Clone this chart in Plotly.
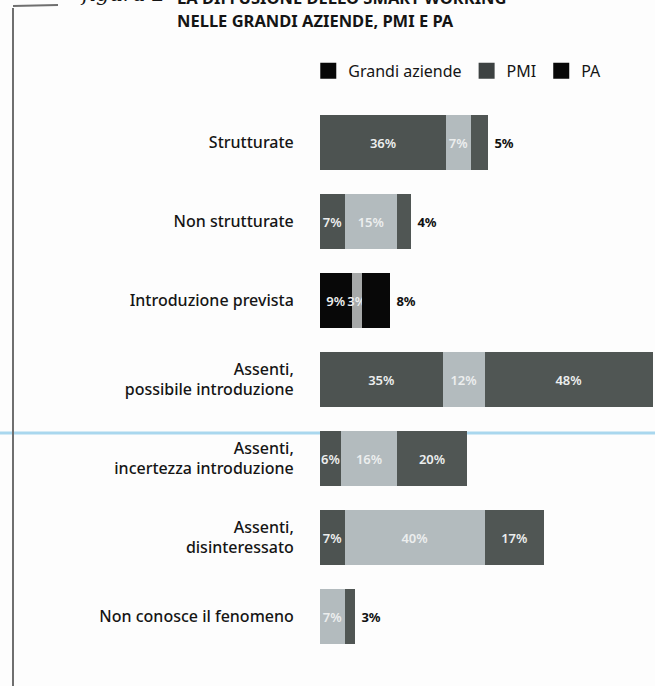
import plotly.graph_objects as go

categories = [
    "Strutturate",
    "Non strutturate",
    "Introduzione prevista",
    "Assenti,<br>possibile introduzione",
    "Assenti,<br>incertezza introduzione",
    "Assenti,<br>disinteressato",
    "Non conosce il fenomeno",
]
grandi_aziende = [36, 7, 9, 35, 6, 7, 0]
pmi = [7, 15, 3, 12, 16, 40, 7]
pa = [5, 4, 8, 48, 20, 17, 3]
series_names = ["Grandi aziende", "PMI", "PA"]

DARK = "#4d5351"
LIGHT = "#b3bbbe"
DARK2 = "#505654"
BLACK = "#080808"
GREY_MID = "#a6a8a8"

grandi_colors = [BLACK if c == "Introduzione prevista" else DARK for c in categories]
pmi_colors = [GREY_MID if c == "Introduzione prevista" else LIGHT for c in categories]
pa_colors = [BLACK if c == "Introduzione prevista" else DARK2 for c in categories]

def labels(vals):
    return [f"{v}%" if v > 0 else "" for v in vals]

font_family = "Noto Sans, Open Sans, sans-serif"
inside_font = dict(family=font_family, size=13, color="#eceeee", weight=600)

fig = go.Figure()
fig.add_trace(go.Bar(
    y=categories, x=grandi_aziende, orientation="h", name=series_names[0],
    marker=dict(color=grandi_colors, line=dict(width=0)),
    text=labels(grandi_aziende), textposition="inside", insidetextanchor="middle",
    textangle=0, insidetextfont=inside_font, showlegend=False, hoverinfo="x+y",
))
fig.add_trace(go.Bar(
    y=categories, x=pmi, orientation="h", name=series_names[1],
    marker=dict(color=pmi_colors, line=dict(width=0)),
    text=labels(pmi), textposition="inside", insidetextanchor="middle",
    textangle=0, insidetextfont=inside_font, showlegend=False, hoverinfo="x+y",
))
pa_pos = ["outside" if v <= 8 else "inside" for v in pa]
fig.add_trace(go.Bar(
    y=categories, x=pa, orientation="h", name=series_names[2],
    marker=dict(color=pa_colors, line=dict(width=0)),
    text=[" " + t if p == "outside" else t for t, p in zip(labels(pa), pa_pos)],
    textposition=pa_pos, insidetextanchor="middle",
    textangle=0, insidetextfont=inside_font,
    outsidetextfont=dict(family=font_family, size=14, color="#111111", weight="bold"),
    cliponaxis=False, showlegend=False, hoverinfo="x+y",
))

legend_colors = [BLACK, "#3d4242", BLACK]
for name, col in zip(series_names, legend_colors):
    fig.add_trace(go.Scatter(
        x=[None], y=[None], mode="markers", name=name,
        marker=dict(symbol="square", size=16, color=col),
    ))

fig.update_layout(
    width=655, height=686,
    margin=dict(l=320, r=0, t=103, b=30),
    paper_bgcolor="#fdfdfd", plot_bgcolor="rgba(0,0,0,0)",
    barmode="stack", bargap=0.3,
    uniformtext=dict(mode="show", minsize=13),
    font=dict(family=font_family, color="#151515"),
    showlegend=True,
    legend=dict(
        orientation="h", x=-0.035, xanchor="left", y=1.058, yanchor="middle",
        traceorder="normal",
        font=dict(size=16, color="#151515"), bgcolor="rgba(0,0,0,0)",
        itemwidth=30, tracegroupgap=0,
    ),
    xaxis=dict(range=[0, 95.7], visible=False, fixedrange=True),
    yaxis=dict(
        autorange="reversed", showline=False, showgrid=False, zeroline=False,
        ticks="outside", ticklen=22, tickcolor="rgba(0,0,0,0)",
        tickfont=dict(size=16, color="#151515", weight=500),
    ),
    shapes=[
        dict(type="line", xref="paper", yref="paper", layer="below",
             x0=-320/335, x1=1, y0=1 - (433 - 103) / 553, y1=1 - (433 - 103) / 553,
             line=dict(color="#a9d7ee", width=3)),
        dict(type="line", xref="paper", yref="paper",
             x0=-307/335, x1=-307/335, y0=1 + (103 - 8) / 553, y1=-30/553,
             line=dict(color="#6f6f6f", width=2)),
        dict(type="line", xref="paper", yref="paper",
             x0=-307/335, x1=-262/335, y0=1 + (103 - 6) / 553, y1=1 + (103 - 5) / 553,
             line=dict(color="#6f6f6f", width=2)),
    ],
    annotations=[
        dict(text="<i>figura 2</i>", xref="paper", yref="paper", showarrow=False,
             x=-242/335, y=1 + (103 + 6) / 553, xanchor="left", yanchor="middle",
             font=dict(family="DejaVu Serif, serif", size=21, color="#151515")),
        dict(text="<b>LA DIFFUSIONE DELLO SMART WORKING</b>", xref="paper", yref="paper",
             showarrow=False, x=-145/335, y=1 + (103 + 3) / 553, xanchor="left", yanchor="middle",
             font=dict(size=16.5, color="#151515")),
        dict(text="<b>NELLE GRANDI AZIENDE, PMI E PA</b>", xref="paper", yref="paper",
             showarrow=False, x=-145/335, y=1 + (103 - 21) / 553, xanchor="left", yanchor="middle",
             font=dict(size=16.5, color="#151515")),
    ],
)

fig.write_html("out.html")
